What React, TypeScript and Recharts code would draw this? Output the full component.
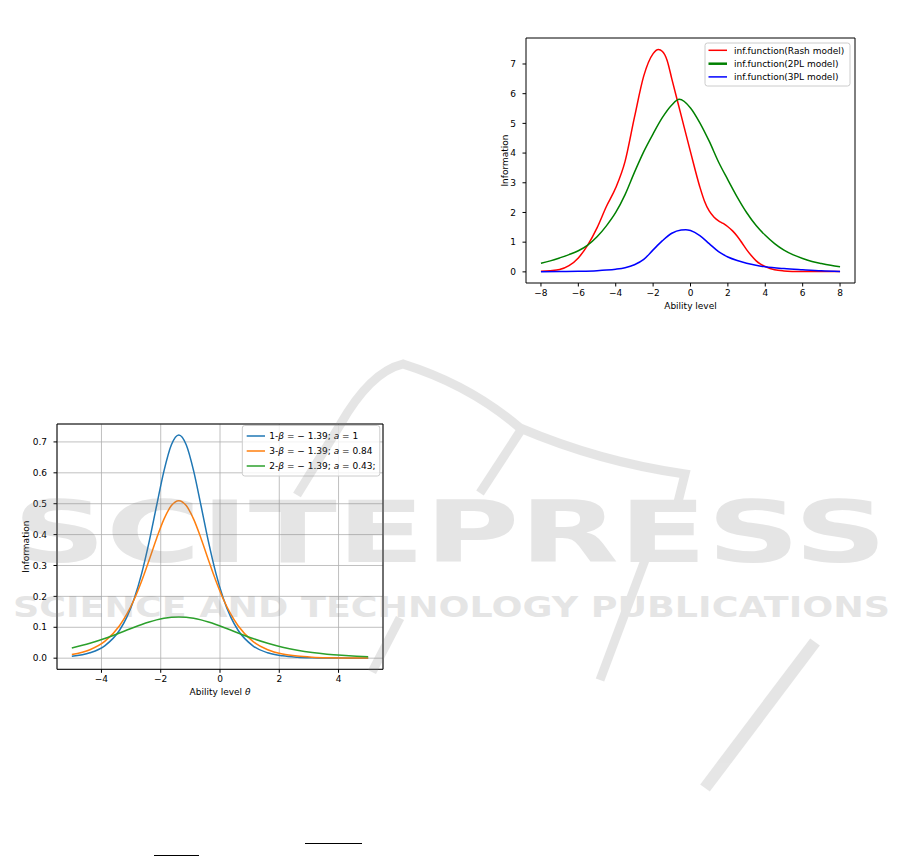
import React from 'react';
import { LineChart, Line, XAxis, YAxis, CartesianGrid, ReferenceArea, Label } from 'recharts';

// ---------- Top chart (test information functions) ----------
const topXTicks = [-8, -6, -4, -2, 0, 2, 4, 6, 8];
const topYTicks = [0, 1, 2, 3, 4, 5, 6, 7];

const rashX = [-8, -7.5, -7, -6.5, -6, -5.5, -5, -4.5, -4, -3.5, -3, -2.5, -2, -1.72, -1.5, -1.25, -1, -0.5, 0, 0.5, 0.75, 1, 1.25, 1.5, 1.75, 2, 2.25, 2.5, 2.75, 3, 3.25, 3.5, 3.75, 4, 4.5, 5, 5.5, 6, 7, 8];
const rashY = [0.02, 0.04, 0.08, 0.21, 0.47, 0.9, 1.48, 2.2, 2.83, 3.72, 5.2, 6.6, 7.35, 7.49, 7.42, 7.12, 6.5, 5.27, 4.04, 2.86, 2.38, 2.05, 1.85, 1.72, 1.63, 1.52, 1.38, 1.2, 0.98, 0.75, 0.55, 0.38, 0.26, 0.18, 0.07, 0.03, 0.015, 0.01, 0.01, 0.01];

const twoPlX = [-8, -7.5, -7, -6.5, -6, -5.5, -5, -4.5, -4, -3.5, -3, -2.5, -2, -1.5, -1, -0.6, 0, 0.5, 1, 1.5, 2, 2.5, 3, 3.5, 4, 4.5, 5, 5.5, 6, 6.5, 7, 7.5, 8];
const twoPlY = [0.29, 0.37, 0.47, 0.58, 0.71, 0.9, 1.18, 1.55, 2.0, 2.6, 3.35, 4.05, 4.65, 5.2, 5.62, 5.81, 5.52, 5.02, 4.4, 3.7, 3.1, 2.52, 2.0, 1.57, 1.23, 0.95, 0.73, 0.57, 0.45, 0.35, 0.28, 0.22, 0.17];

const threePlX = [-8, -7, -6, -5, -4.5, -4, -3.5, -3, -2.5, -2, -1.5, -1, -0.5, -0.25, 0, 0.5, 1, 1.5, 2, 2.5, 3, 3.5, 4, 5, 6, 7, 8];
const threePlY = [0.0, 0.01, 0.02, 0.04, 0.06, 0.09, 0.14, 0.24, 0.42, 0.74, 1.05, 1.3, 1.41, 1.42, 1.39, 1.22, 0.95, 0.68, 0.5, 0.38, 0.29, 0.22, 0.17, 0.11, 0.07, 0.035, 0.015];

const topLegend = ['inf.function(Rash model)', 'inf.function(2PL model)', 'inf.function(3PL model)'];

// ---------- Bottom chart (item information functions) ----------
const bottomXTicks = [-4, -2, 0, 2, 4];
const bottomYTicks = [0, 0.1, 0.2, 0.3, 0.4, 0.5, 0.6, 0.7];

const theta = [-5, -4.39, -3.89, -3.39, -3.14, -2.89, -2.64, -2.39, -2.14, -1.89, -1.64, -1.39, -1.14, -0.89, -0.64, -0.39, -0.14, 0.11, 0.36, 0.61, 1.11, 1.61, 2.11, 2.61, 3.11, 3.61, 4.11, 4.61, 5];
const itemA1 = [0.0062, 0.0174, 0.0401, 0.0903, 0.1335, 0.1942, 0.2754, 0.3774, 0.4933, 0.6063, 0.6907, 0.7225, 0.6907, 0.6063, 0.4933, 0.3774, 0.2754, 0.1942, 0.1335, 0.0903, 0.0401, 0.0174, 0.0075, 0.0032, 0.0014, 0.0006, 0.0003, 0.0001, 0.0001];
const itemA084 = [0.0116, 0.0274, 0.0543, 0.1049, 0.1431, 0.1917, 0.2509, 0.3181, 0.3876, 0.45, 0.4939, 0.5098, 0.4939, 0.45, 0.3876, 0.3181, 0.2509, 0.1917, 0.1431, 0.1049, 0.0543, 0.0274, 0.0136, 0.0067, 0.0033, 0.0016, 0.0008, 0.0004, 0.0002];
const itemA043 = [0.0332, 0.0483, 0.0638, 0.0816, 0.091, 0.1003, 0.1092, 0.1172, 0.124, 0.1292, 0.1325, 0.1336, 0.1325, 0.1292, 0.124, 0.1172, 0.1092, 0.1003, 0.091, 0.0816, 0.0638, 0.0483, 0.0356, 0.0259, 0.0185, 0.0131, 0.0093, 0.0065, 0.0049];

const bottomLegendPrefix = ['1-', '3-', '2-'];
const bottomLegendA = ['1', '0.84', '0.43;'];

const FONT = "'DejaVu Sans', sans-serif";
const tickStyle = { fontSize: 9, fill: '#000', fontFamily: FONT };
const fmtMinus = (v: number) => (v < 0 ? '\u2212' + Math.abs(v) : String(v));

function TopChart() {
  const rash = rashX.map((x, i) => ({ x, y: rashY[i] }));
  const twoPl = twoPlX.map((x, i) => ({ x, y: twoPlY[i] }));
  const threePl = threePlX.map((x, i) => ({ x, y: threePlY[i] }));
  return (
    <LineChart width={390} height={300} margin={{ top: 8, right: 15, bottom: 17, left: 0 }}>
      <XAxis
        type="number"
        dataKey="x"
        domain={[-8.8, 8.8]}
        ticks={topXTicks}
        interval={0}
        allowDataOverflow
        tickFormatter={fmtMinus}
        tick={tickStyle}
        tickSize={3.5}
        tickMargin={3.5}
        height={30}
        axisLine={false}
        tickLine={{ stroke: '#000' }}
      >
        <Label
          content={(p: any) => {
            const vb = p.viewBox || { x: 46, y: 253, width: 329, height: 30 };
            return (
              <text x={vb.x + vb.width / 2} y={vb.y + 26} textAnchor="middle" fontSize={9} fontFamily={FONT} fill="#000">
                Ability level
              </text>
            );
          }}
        />
      </XAxis>
      <YAxis
        type="number"
        domain={[-0.375, 7.875]}
        ticks={topYTicks}
        interval={0}
        allowDataOverflow
        width={46}
        tick={tickStyle}
        tickSize={3.5}
        tickMargin={6.5}
        axisLine={false}
        tickLine={{ stroke: '#000' }}
      >
        <Label
          content={(p: any) => {
            const vb = p.viewBox || { x: 0, y: 8, width: 46, height: 245 };
            const cx = vb.x + 28.3;
            const cy = vb.y + vb.height / 2;
            return (
              <text x={cx} y={cy} textAnchor="middle" fontSize={9} fontFamily={FONT} fill="#000" transform={`rotate(-90, ${cx}, ${cy})`}>
                Information
              </text>
            );
          }}
        />
      </YAxis>
      <Line data={rash} dataKey="y" type="monotone" stroke="#ff0000" strokeWidth={1.5} dot={false} isAnimationActive={false} />
      <Line data={twoPl} dataKey="y" type="monotone" stroke="#008000" strokeWidth={1.5} dot={false} isAnimationActive={false} />
      <Line data={threePl} dataKey="y" type="monotone" stroke="#0000ff" strokeWidth={1.5} dot={false} isAnimationActive={false} />
      <ReferenceArea x1={-8.8} x2={8.8} y1={-0.375} y2={7.875} fill="none" fillOpacity={0} stroke="#000" strokeWidth={1} ifOverflow="visible" />
    </LineChart>
  );
}

function BottomChart() {
  const data = theta.map((t, i) => ({ t, a1: itemA1[i], a084: itemA084[i], a043: itemA043[i] }));
  return (
    <LineChart width={400} height={300} data={data} margin={{ top: 8, right: 17, bottom: 16.7, left: 0 }}>
      <CartesianGrid stroke="#b0b0b0" strokeWidth={0.8} />
      <XAxis
        type="number"
        dataKey="t"
        domain={[-5.5, 5.5]}
        ticks={bottomXTicks}
        interval={0}
        allowDataOverflow
        tickFormatter={fmtMinus}
        tick={tickStyle}
        tickSize={3.5}
        tickMargin={3}
        height={30}
        axisLine={false}
        tickLine={{ stroke: '#000' }}
      >
        <Label
          content={(p: any) => {
            const vb = p.viewBox || { x: 57, y: 253.3, width: 326, height: 30 };
            return (
              <text x={vb.x + vb.width / 2} y={vb.y + 25.7} textAnchor="middle" fontSize={9} fontFamily={FONT} fill="#000">
                Ability level <tspan fontStyle="italic">θ</tspan>
              </text>
            );
          }}
        />
      </XAxis>
      <YAxis
        type="number"
        domain={[-0.036, 0.758]}
        ticks={bottomYTicks}
        interval={0}
        allowDataOverflow
        width={57}
        tickFormatter={(v: number) => v.toFixed(1)}
        tick={tickStyle}
        tickSize={3.5}
        tickMargin={6.5}
        axisLine={false}
        tickLine={{ stroke: '#000' }}
      >
        <Label
          content={(p: any) => {
            const vb = p.viewBox || { x: 0, y: 8, width: 57, height: 245 };
            const cx = vb.x + 28.6;
            const cy = vb.y + vb.height / 2;
            return (
              <text x={cx} y={cy} textAnchor="middle" fontSize={9} fontFamily={FONT} fill="#000" transform={`rotate(-90, ${cx}, ${cy})`}>
                Information
              </text>
            );
          }}
        />
      </YAxis>
      <Line dataKey="a1" type="monotone" stroke="#1f77b4" strokeWidth={1.5} dot={false} isAnimationActive={false} />
      <Line dataKey="a084" type="monotone" stroke="#ff7f0e" strokeWidth={1.5} dot={false} isAnimationActive={false} />
      <Line dataKey="a043" type="monotone" stroke="#2ca02c" strokeWidth={1.5} dot={false} isAnimationActive={false} />
      <ReferenceArea x1={-5.5} x2={5.5} y1={-0.036} y2={0.758} fill="none" fillOpacity={0} stroke="#000" strokeWidth={1} ifOverflow="visible" />
    </LineChart>
  );
}

function Overlay() {
  const topColors = ['#ff0000', '#008000', '#0000ff'];
  const topWidths = [1.5, 2.5, 1.5];
  const topRows = [50.3, 63.7, 76.9];
  const botColors = ['#1f77b4', '#ff7f0e', '#2ca02c'];
  const botRows = [436, 451, 466];
  return (
    <svg width={901} height={856} style={{ position: 'absolute', left: 0, top: 0, pointerEvents: 'none' }}>
      {/* top legend */}
      <rect x={705} y={43} width={145} height={43} rx={2.5} fill="#fff" fillOpacity={0.8} stroke="#cccccc" strokeWidth={1} />
      {topLegend.map((t, i) => (
        <g key={t}>
          <line x1={708.5} x2={727} y1={topRows[i]} y2={topRows[i]} stroke={topColors[i]} strokeWidth={topWidths[i]} />
          <text x={734} y={topRows[i] + 3.3} fontSize={9} fontFamily={FONT} fill="#000">{t}</text>
        </g>
      ))}
      {/* bottom legend */}
      <rect x={242.3} y={425.5} width={137.5} height={50.5} rx={2.5} fill="#fff" fillOpacity={0.8} stroke="#cccccc" strokeWidth={1} />
      {bottomLegendPrefix.map((pre, i) => (
        <g key={pre}>
          <line x1={246.7} x2={265} y1={botRows[i]} y2={botRows[i]} stroke={botColors[i]} strokeWidth={1.5} />
          <text x={269.3} y={botRows[i] + 3.3} fontSize={9} fontFamily={FONT} fill="#000">
            {pre}
            <tspan fontStyle="italic">β</tspan>
            {' = \u2212 1.39; '}
            <tspan fontStyle="italic">a</tspan>
            {' = ' + bottomLegendA[i]}
          </text>
        </g>
      ))}
      {/* fraction bars of cut-off text */}
      <line x1={305} x2={362} y1={843.5} y2={843.5} stroke="#000" strokeWidth={1} />
      <line x1={154} x2={199} y1={855.5} y2={855.5} stroke="#000" strokeWidth={1} />
      {/* watermark */}
      <g opacity={0.2} fill="#808080" stroke="#808080">
        <path d="M 297 495 L 340 425 Q 370 372 403 364 Q 470 385 520 428 Q 600 462 685 474 L 678 502" fill="none" strokeWidth={9} />
        <path d="M 480 493 L 521 430" fill="none" strokeWidth={9} />
        <path d="M 400 618 L 372 672" fill="none" strokeWidth={9} />
        <path d="M 645 560 L 600 680" fill="none" strokeWidth={9} />
        <path d="M 815 642 L 705 788" fill="none" strokeWidth={12} />
        <text x={13} y={562} fontSize={85} fontWeight="bold" fontFamily={FONT} stroke="none" textLength={874} lengthAdjust="spacingAndGlyphs">SCITEPRESS</text>
        <text x={13} y={616.7} fontSize={27.5} fontWeight="bold" fontFamily={FONT} stroke="none" textLength={877} lengthAdjust="spacingAndGlyphs">SCIENCE AND TECHNOLOGY PUBLICATIONS</text>
      </g>
    </svg>
  );
}

export default function App() {
  return (
    <div style={{ position: 'absolute', left: 0, top: 0, width: 901, height: 856, background: '#fff', overflow: 'hidden', fontFamily: FONT }}>
      <div style={{ position: 'absolute', left: 480, top: 30 }}>
        <TopChart />
      </div>
      <div style={{ position: 'absolute', left: 0, top: 416 }}>
        <BottomChart />
      </div>
      <Overlay />
    </div>
  );
}
